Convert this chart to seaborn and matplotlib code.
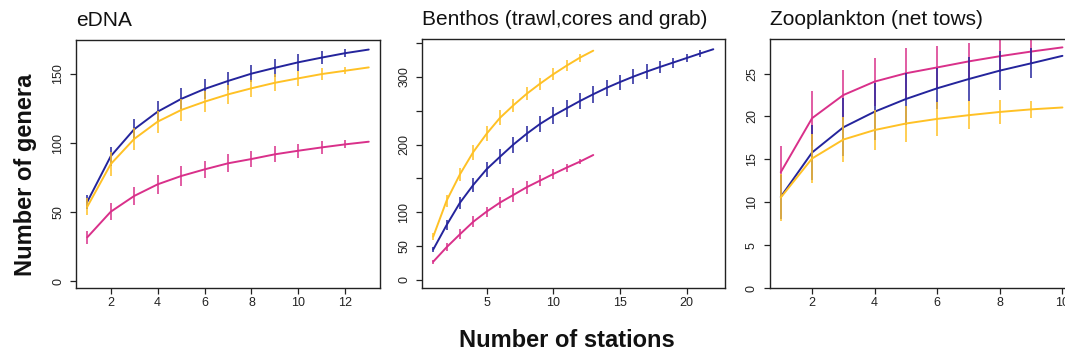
import matplotlib
matplotlib.use("Agg")
import matplotlib.pyplot as plt
import seaborn as sns
import numpy as np
import pandas as pd

# Colours of the three sample groups
BLUE = "#24249C"
ORANGE = "#FFC125"
PINK = "#D9308A"

# eDNA accumulation curves (mean genera and sd per number of stations)
edna_stations = list(range(1, 14))
edna_blue = [57.5, 90.5, 110.0, 122.7, 131.9, 139.1, 144.9, 150.2, 154.4, 158.4, 161.8, 165.0, 167.6]
edna_blue_sd = [5.0, 7.0, 7.5, 7.8, 7.6, 7.2, 6.8, 6.2, 6.4, 6.2, 4.8, 2.8, 0.0]
edna_orange = [54.0, 84.8, 103.0, 115.5, 123.9, 129.9, 135.2, 139.6, 143.6, 146.8, 149.9, 152.3, 154.7]
edna_orange_sd = [6.0, 8.5, 8.0, 8.0, 7.8, 7.5, 7.0, 6.2, 6.0, 5.2, 4.4, 2.6, 0.0]
edna_pink = [31.9, 50.4, 61.8, 70.2, 76.2, 81.0, 85.4, 88.5, 91.9, 94.5, 96.9, 99.1, 101.0]
edna_pink_sd = [4.8, 6.3, 6.6, 7.0, 7.0, 6.4, 6.4, 6.0, 5.8, 5.2, 4.5, 2.8, 0.0]

# Benthos (trawl, cores and grab)
benthos_blue_stations = list(range(1, 23))
benthos_blue = [45.0, 81.0, 114.0, 140.4, 163.6, 182.0, 200.0, 216.0, 230.5, 242.8, 253.7,
                264.5, 274.5, 284.0, 292.5, 300.5, 307.9, 314.8, 321.4, 328.0, 334.6, 341.0]
benthos_blue_sd = [4.0, 7.0, 9.0, 10.0, 11.0, 11.0, 12.0, 12.0, 12.5, 13.0, 12.8,
                   11.8, 12.6, 11.6, 11.0, 11.0, 10.8, 8.6, 7.4, 6.2, 4.7, 0.0]
benthos_stations = list(range(1, 14))
benthos_orange = [64.0, 117.0, 156.0, 189.0, 216.0, 239.5, 258.0, 275.0, 290.0, 304.0, 316.7, 328.6, 338.9]
benthos_orange_sd = [5.0, 9.0, 10.0, 11.0, 11.0, 11.0, 10.0, 9.5, 9.0, 8.6, 8.0, 6.0, 0.0]
benthos_pink = [27.0, 48.3, 67.5, 86.0, 101.0, 114.3, 125.6, 137.0, 146.8, 156.6, 166.0, 174.9, 184.7]
benthos_pink_sd = [3.0, 6.0, 7.4, 8.4, 7.4, 8.6, 9.8, 9.4, 8.5, 7.5, 6.0, 4.0, 0.0]

# Zooplankton (net tows)
zoo_stations = list(range(1, 11))
zoo_blue = [10.63, 15.8, 18.74, 20.56, 22.04, 23.29, 24.36, 25.35, 26.2, 27.07]
zoo_blue_sd = [2.6, 3.2, 3.4, 3.3, 3.0, 2.4, 2.6, 2.3, 1.75, 0.0]
zoo_orange = [10.55, 15.1, 17.31, 18.42, 19.18, 19.72, 20.15, 20.53, 20.83, 21.05]
zoo_orange_sd = [2.7, 2.9, 2.6, 2.3, 2.1, 1.95, 1.65, 1.38, 0.95, 0.0]
zoo_pink = [13.5, 19.8, 22.5, 24.07, 25.04, 25.72, 26.42, 27.03, 27.57, 28.06]
zoo_pink_sd = [3.0, 3.2, 2.9, 2.8, 2.9, 2.45, 2.2, 1.9, 1.45, 0.0]

titles = ["eDNA", "Benthos (trawl,cores and grab)", "Zooplankton (net tows)"]

sns.set_theme(style="white")
plt.rcParams["font.family"] = ["Liberation Sans", "DejaVu Sans"]

W, H = 1065, 356
fig = plt.figure(figsize=(W / 100, H / 100), dpi=100)


def px_axes(left, top, right, bottom):
    return fig.add_axes([left / W, 1 - bottom / H, (right - left) / W, (bottom - top) / H])


ax1 = px_axes(76, 40, 380, 288)
ax2 = px_axes(422, 39.3, 724.5, 287.5)
ax3 = px_axes(769.5, 39.3, 1073.7, 288)


def curve(ax, x, y, sd, color):
    df = pd.DataFrame({"stations": x, "genera": y})
    y = np.asarray(y)
    sd = np.asarray(sd)
    keep = sd > 0
    ax.vlines(np.asarray(x)[keep], (y - sd)[keep], (y + sd)[keep], color=color, lw=1.1)
    sns.lineplot(data=df, x="stations", y="genera", color=color, lw=1.4, ax=ax)


panels = [
    (ax1, [(edna_stations, edna_pink, edna_pink_sd, PINK),
           (edna_stations, edna_blue, edna_blue_sd, BLUE),
           (edna_stations, edna_orange, edna_orange_sd, ORANGE)]),
    (ax2, [(benthos_stations, benthos_pink, benthos_pink_sd, PINK),
           (benthos_blue_stations, benthos_blue, benthos_blue_sd, BLUE),
           (benthos_stations, benthos_orange, benthos_orange_sd, ORANGE)]),
    (ax3, [(zoo_stations, zoo_pink, zoo_pink_sd, PINK),
           (zoo_stations, zoo_blue, zoo_blue_sd, BLUE),
           (zoo_stations, zoo_orange, zoo_orange_sd, ORANGE)]),
]
for ax, series in panels:
    for x, y, sd, c in series:
        curve(ax, x, y, sd, c)

ax1.set_xlim(0.52, 13.48)
ax1.set_ylim(-4.7, 174.5)
ax1.set_xticks([2, 4, 6, 8, 10, 12])
ax1.set_yticks([0, 50, 100, 150])

ax2.set_xlim(0.16, 22.84)
ax2.set_ylim(-11.1, 355.7)
ax2.set_xticks([5, 10, 15, 20])
ax2.set_yticks([0, 50, 100, 150, 200, 250, 300, 350])
ax2.set_yticklabels(["0", "50", "100", "", "200", "", "300", ""])

ax3.set_xlim(0.64, 10.36)
ax3.set_ylim(0, 29.0)
ax3.set_xticks([2, 4, 6, 8, 10])
ax3.set_yticks([0, 5, 10, 15, 20, 25])

for ax, title in zip([ax1, ax2, ax3], titles):
    ax.set_xlabel("")
    ax.set_ylabel("")
    ax.set_title(title, loc="left", fontsize=15, pad=10, color="#111111")
    for s in ax.spines.values():
        s.set_visible(True)
        s.set_color("#222222")
        s.set_linewidth(1.0)
    ax.tick_params(axis="both", which="both", direction="out", length=4.3, width=0.9,
                   color="#222222", labelsize=9, labelcolor="#222222",
                   bottom=True, left=True)
    ax.tick_params(axis="x", pad=2.2)
    ax.tick_params(axis="y", pad=4.0)
    for lab in ax.get_yticklabels():
        lab.set_rotation(90)
        lab.set_va("center")
    ax.grid(False)

fig.text(31.7 / W, 1 - 175 / H, "Number of genera", rotation=90, rotation_mode="anchor",
         ha="center", va="baseline", fontsize=17, fontweight="bold", color="#111111")
fig.text(567 / W, 1 - 346.7 / H, "Number of stations", ha="center", va="baseline",
         fontsize=17, fontweight="bold", color="#111111")

fig.savefig("out.png", dpi=100, facecolor="white")
